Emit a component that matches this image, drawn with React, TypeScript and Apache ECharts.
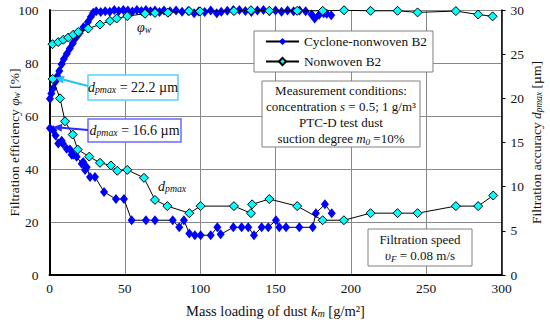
import React, { useEffect, useRef } from 'react';
import * as echarts from 'echarts';

const FONT = '"Liberation Serif", "Times New Roman", serif';

// Mass loading [g/m2] vs filtration efficiency [%]
const cycloneEff: number[][] = [
  [0.3, 66.5], [1.2, 68.5], [2.5, 70.5], [4, 73], [5.2, 75], [6.5, 77], [8, 79.5], [9.5, 81.5],
  [11.5, 83.5], [13.5, 85.5], [15.5, 87.5], [17.5, 89.5], [20, 91.3], [22.5, 93.5], [25.5, 95.5],
  [27.5, 97.5], [29, 99], [31, 99.5], [34, 99.2], [37, 99.5], [40, 99.3], [43, 100], [46, 99.6],
  [49, 100], [52, 99.8], [55, 99.4], [58, 100], [61, 99.6], [64, 100], [67, 99.5], [70, 99.8],
  [73, 99.2], [76, 99.8], [80, 99.5], [84, 99.8], [88, 99.3], [92, 99.6], [96, 98.8], [99, 99.4],
  [103, 99.2], [107, 99.8], [111, 98.8], [114, 99.3], [118, 99.7], [122, 100], [126, 100],
  [130, 99.6], [134, 99.2], [138, 99.8], [142, 100], [146, 99.5], [150, 99.8], [154, 99.3],
  [158, 99.8], [162, 99.5], [166, 99.8], [170, 99.5], [174, 98.3], [176, 96.8], [179, 98.2],
  [182, 98.8], [184, 98.6], [187, 98],
];
const nonwovenEff: number[][] = [
  [2, 87.1], [5.8, 87.9], [9.2, 88.8], [12.5, 89.6], [15.8, 90.7], [19.1, 91.7], [25.7, 93],
  [33.5, 94.5], [40.1, 95.9], [44.6, 96.8], [51.6, 97.7], [63.4, 98.6], [70, 98.9], [78.6, 99],
  [92.6, 99.6], [99.9, 99.5], [122.4, 99.6], [133.7, 99.9], [145.9, 99.7], [164.4, 99.7],
  [181.3, 99.7], [195.5, 99.9], [213.1, 99.7], [231, 99.7], [244.3, 99.1], [269.7, 99.6],
  [284.5, 98.3], [294.1, 97.6],
];
// Mass loading [g/m2] vs filtration accuracy dpmax [µm]
const cycloneAcc: number[][] = [
  [0.3, 16.6], [2.5, 16.4], [4, 15.8], [5.8, 14.9], [8.1, 15.2], [8.8, 14.9], [11.4, 14.3],
  [13.6, 14.2], [14.7, 13.6], [15.8, 13.6], [18, 13.4], [21.4, 12.6], [22.4, 12.8], [23.6, 11.9],
  [24.7, 12.2], [26.9, 11.1], [30.2, 11.1], [36.2, 9.4], [44.1, 8.6], [49.4, 8.6], [54.5, 6.2],
  [64, 6.2], [70, 6.2], [81.8, 6.2], [86.1, 5.4], [89.2, 6.2], [92.8, 4.7], [96.5, 4.5],
  [100.3, 4.5], [107, 4.5], [111.4, 5.4], [113.6, 4.6], [122, 5.4], [127.5, 5.4], [131.9, 5.4],
  [135.7, 4.5], [140.8, 5.4], [145.2, 5.4], [150.3, 6.2], [152.5, 5.4], [157, 5.4], [165.8, 5.4],
  [174.7, 5.4], [176.8, 7.0], [182.8, 8.0], [187.3, 7.0],
];
const nonwovenAcc: number[][] = [
  [2.1, 22.2], [7, 20], [10.3, 17.4], [15.4, 15.9], [18.7, 14.2], [26.4, 13.4], [33.5, 12.7],
  [40.8, 12.4], [45, 11.8], [51.6, 11.9], [62.7, 11], [70, 8.5], [78.2, 7.8], [92.8, 7.0],
  [100.3, 7.8], [122.4, 7.8], [133.7, 7.0], [134.5, 8.0], [145.9, 8.6], [164.4, 7.8],
  [181.3, 6.2], [195.4, 6.2], [213.1, 7.0], [231, 7.0], [244.3, 7.0], [269.7, 7.8],
  [284.5, 7.8], [294.5, 9.0],
];

const seriesNames = ['Cyclone-nonwoven B2', 'Nonwoven B2'];

const rich = (size: number) => ({
  i: { fontFamily: FONT, fontSize: size, fontStyle: 'italic', color: '#111' },
  sub: { fontFamily: FONT, fontSize: size * 0.7, fontStyle: 'italic', color: '#111', lineHeight: 6, verticalAlign: 'bottom' },
  n: { fontFamily: FONT, fontSize: size, color: '#111' },
});

const tickLabel = (margin: number) => ({
  margin,
  fontFamily: FONT,
  fontSize: 13.5,
  color: '#111',
});

function arrow(x1: number, y1: number, x2: number, y2: number, color: string) {
  const dx = x2 - x1, dy = y2 - y1;
  const len = Math.sqrt(dx * dx + dy * dy);
  const ux = dx / len, uy = dy / len;
  const hl = 9, hw = 4;
  const bx = x2 - ux * hl, by = y2 - uy * hl;
  return [
    { type: 'line', z: 100, shape: { x1, y1, x2: bx, y2: by }, style: { stroke: color, lineWidth: 2 } },
    {
      type: 'polygon', z: 100,
      shape: { points: [[x2, y2], [bx - uy * hw, by + ux * hw], [bx + uy * hw, by - ux * hw]] },
      style: { fill: color },
    },
  ];
}

export default function App() {
  const ref = useRef<HTMLDivElement>(null);
  useEffect(() => {
    if (!ref.current) return;
    const chart = echarts.init(ref.current, undefined, { renderer: 'svg' });
    const option: any = {
      animation: false,
      backgroundColor: '#fff',
      textStyle: { fontFamily: FONT },
      grid: { left: 49.5, right: 48.5, top: 10, bottom: 50, containLabel: false, outerBoundsMode: 'none' },
      xAxis: {
        type: 'value', min: 0, max: 300, interval: 50,
        name: 'Mass loading of dust {i|k}{sub|m} [g/m²]',
        nameLocation: 'middle', nameGap: 28, nameMoveOverlap: false,
        nameTextStyle: { fontFamily: FONT, fontSize: 14.5, color: '#111', rich: rich(14.5) },
        axisLine: { lineStyle: { color: '#000', width: 2 } },
        axisTick: { show: false },
        axisLabel: tickLabel(6),
        splitLine: { show: true, lineStyle: { color: '#888', width: 1 } },
      },
      yAxis: [
        {
          type: 'value', min: 0, max: 100, interval: 20, position: 'left',
          name: 'Filtration efficiency {i|φ}{sub|w} [%]',
          nameLocation: 'middle', nameGap: 28, nameRotate: 90, nameMoveOverlap: false,
          nameTextStyle: { fontFamily: FONT, fontSize: 13.5, color: '#111', rich: rich(13.5) },
          axisLine: { show: true, lineStyle: { color: '#000', width: 2 } },
          axisTick: { show: false },
          axisLabel: tickLabel(11),
          splitLine: { show: true, lineStyle: { color: '#888', width: 1 } },
        },
        {
          type: 'value', min: 0, max: 30, interval: 5, position: 'right',
          name: 'Filtration accuracy {i|d}{sub|pmax} [µm]',
          nameLocation: 'middle', nameGap: 28, nameRotate: 90, nameMoveOverlap: false,
          nameTextStyle: { fontFamily: FONT, fontSize: 13.5, color: '#111', rich: rich(13.5) },
          axisLine: { show: true, lineStyle: { color: '#000', width: 1.5 } },
          axisTick: { show: true, inside: false, length: 4, lineStyle: { color: '#000' } },
          axisLabel: tickLabel(9),
          splitLine: { show: false },
        },
      ],
      legend: {
        orient: 'vertical', left: 254, top: 31,
        itemWidth: 33, itemHeight: 9, itemGap: 7,
        padding: [4, 6, 4, 11],
        borderColor: '#808080', borderWidth: 1, backgroundColor: '#fff',
        textStyle: { fontFamily: FONT, fontSize: 13.3, color: '#111' },
        data: seriesNames,
        z: 50,
      },
      series: [
        {
          name: seriesNames[0], type: 'line', yAxisIndex: 0, data: cycloneEff,
          symbol: 'diamond', symbolSize: [8, 10], showAllSymbol: true,
          lineStyle: { color: '#000', width: 1 }, itemStyle: { color: '#0000ff' }, z: 3,
        },
        {
          name: seriesNames[0], type: 'line', yAxisIndex: 1, data: cycloneAcc,
          symbol: 'diamond', symbolSize: [8, 10], showAllSymbol: true,
          lineStyle: { color: '#000', width: 1 }, itemStyle: { color: '#0000ff' }, z: 3,
        },
        {
          name: seriesNames[1], type: 'line', yAxisIndex: 0, data: nonwovenEff,
          symbol: 'diamond', symbolSize: 9, showAllSymbol: true,
          lineStyle: { color: '#000', width: 1 },
          itemStyle: { color: '#00ffff', borderColor: '#000', borderWidth: 1 }, z: 4,
        },
        {
          name: seriesNames[1], type: 'line', yAxisIndex: 1, data: nonwovenAcc,
          symbol: 'diamond', symbolSize: 9, showAllSymbol: true,
          lineStyle: { color: '#000', width: 1 },
          itemStyle: { color: '#00ffff', borderColor: '#000', borderWidth: 1 }, z: 4,
        },
      ],
      graphic: [
        { type: 'rect', z: 50, shape: { x: 262, y: 81, width: 158, height: 66 }, style: { fill: '#fff', stroke: '#808080', lineWidth: 1 } },
        {
          type: 'text', z: 51, x: 341, y: 114.5,
          style: {
            text: 'Measurement conditions:\nconcentration {i|s} = 0.5; 1 g/m³\nPTC-D test dust\nsuction degree {i|m}{sub|0} =10%',
            align: 'center', verticalAlign: 'middle', fontFamily: FONT, fontSize: 13, fill: '#111', lineHeight: 15.8,
            rich: rich(13),
          },
        },
        { type: 'rect', z: 50, shape: { x: 368, y: 229, width: 104, height: 37 }, style: { fill: '#fff', stroke: '#808080', lineWidth: 1 } },
        {
          type: 'text', z: 51, x: 420, y: 247.5,
          style: {
            text: 'Filtration speed\n{i|υ}{sub|F} = 0.08 m/s',
            align: 'center', verticalAlign: 'middle', fontFamily: FONT, fontSize: 13, fill: '#111', lineHeight: 15.5,
            rich: rich(13),
          },
        },
        { type: 'rect', z: 60, shape: { x: 88, y: 75, width: 90, height: 25 }, style: { fill: '#fff', stroke: '#55d4f8', lineWidth: 1.5 } },
        {
          type: 'text', z: 61, x: 133, y: 87.5,
          style: { text: '{i|d}{sub|pmax} = 22.2 µm', align: 'center', verticalAlign: 'middle', fontFamily: FONT, fontSize: 14, fill: '#111', rich: rich(14) },
        },
        ...arrow(88, 86, 55, 77.5, '#22c4f4'),
        { type: 'rect', z: 60, shape: { x: 88, y: 119, width: 93, height: 23 }, style: { fill: '#fff', stroke: '#6a6aff', lineWidth: 1.5 } },
        {
          type: 'text', z: 61, x: 134.5, y: 130.5,
          style: { text: '{i|d}{sub|pmax} = 16.6 µm', align: 'center', verticalAlign: 'middle', fontFamily: FONT, fontSize: 14, fill: '#111', rich: rich(14) },
        },
        ...arrow(88, 130, 53, 127, '#2a2aff'),
        {
          type: 'text', z: 61, x: 137, y: 27,
          style: { text: '{i|φ}{sub|w}', align: 'left', verticalAlign: 'middle', fontFamily: FONT, fontSize: 14, fill: '#111', rich: rich(14) },
        },
        {
          type: 'text', z: 61, x: 158, y: 186,
          style: { text: '{i|d}{sub|pmax}', align: 'left', verticalAlign: 'middle', fontFamily: FONT, fontSize: 14, fill: '#111', rich: rich(14) },
        },
      ],
    };
    chart.setOption(option);
    return () => chart.dispose();
  }, []);
  return <div ref={ref} style={{ position: 'fixed', left: 0, top: 0, width: 550, height: 325 }} />;
}
